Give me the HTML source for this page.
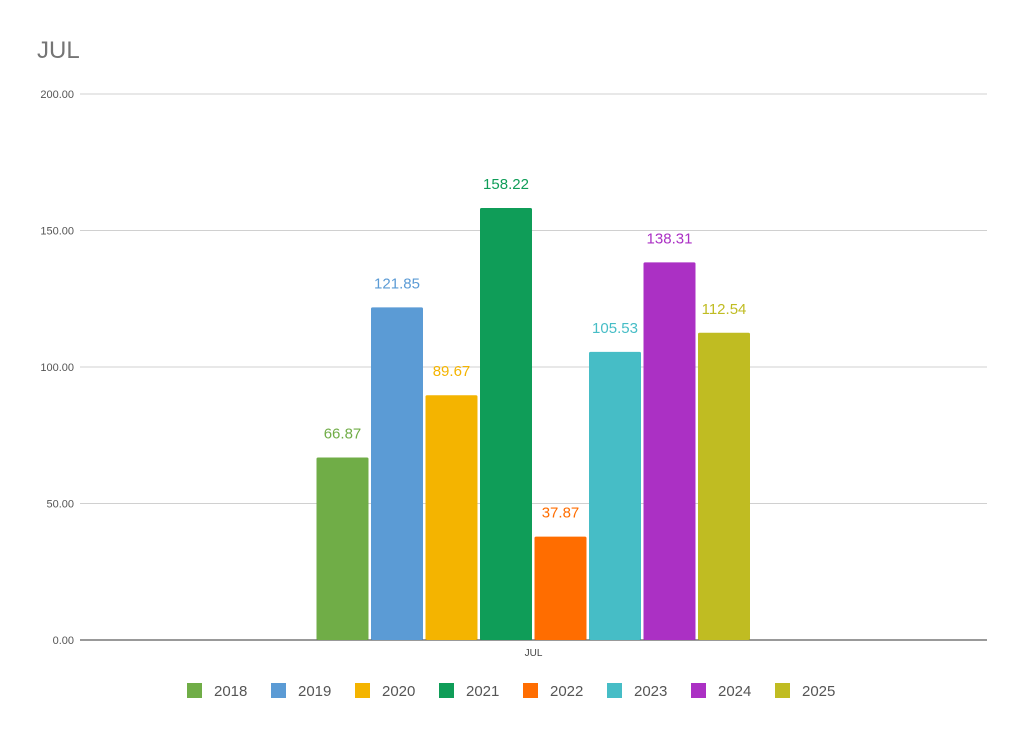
<!DOCTYPE html>
<html><head><meta charset="utf-8"><style>
body{margin:0;background:#fff;font-family:"Liberation Sans",sans-serif;}
svg{display:block}
</style></head><body>
<svg id="chart" width="1024" height="736">
<text x="37" y="58" font-size="24" fill="#757575">JUL</text>
<g id="grid"></g><g id="bars"></g><g id="legend"></g>
</svg>
<script>
const categories=["JUL"];
const series=["2018","2019","2020","2021","2022","2023","2024","2025"];
const values=[66.87,121.85,89.67,158.22,37.87,105.53,138.31,112.54];
const labels=["66.87","121.85","89.67","158.22","37.87","105.53","138.31","112.54"];
const ticks=[0,50,100,150,200];
const tickLabels=["0.00","50.00","100.00","150.00","200.00"];
const colors=["#70ad47","#5b9bd5","#f4b400","#0f9d58","#ff6d00","#46bdc6","#ab30c4","#c0bc22"];
const NS="http://www.w3.org/2000/svg";
const X0=80,X1=987,Y0=640,Y1=94,YMAX=200;
const y=v=>Y0-(v/YMAX)*(Y0-Y1);
function mk(t,a,p){const e=document.createElementNS(NS,t);for(const k in a)e.setAttribute(k,a[k]);p.appendChild(e);return e;}
const grid=document.getElementById('grid');
ticks.forEach((t,i)=>{
 const l=mk('line',{x1:X0,x2:X1,y1:y(t),y2:y(t),stroke:i==0?'#333':'#d0d0d0','stroke-width':1},grid);
 
 
 const tx=mk('text',{x:74,y:y(t)+4,'font-size':11,fill:'#555','text-anchor':'end'},grid);
 tx.textContent=tickLabels[i];
 
 
});
const bars=document.getElementById('bars');
const cx=(X0+X1)/2, step=54.5, bw=52;
const start=cx-step*series.length/2;
const xl=mk('text',{x:cx,y:656,'font-size':10,fill:'#444','text-anchor':'middle'},bars);
xl.textContent=categories[0];


values.forEach((v,i)=>{
 const bx=start+i*step+1;
 const r=mk('rect',{x:bx,y:y(v),width:bw,height:Y0-y(v),fill:colors[i],rx:1.5},bars);
 
 
 const t=mk('text',{x:bx+bw/2,y:y(v)-19,'font-size':15,fill:colors[i],'text-anchor':'middle'},bars);
 t.textContent=labels[i];
 
 
});
const lg=document.getElementById('legend');
series.forEach((s,i)=>{
 const lx=187+i*84;
 const g=mk('g',{},lg);
 
 
 mk('rect',{x:lx,y:683,width:15,height:15,fill:colors[i]},g);
 const t=mk('text',{x:lx+27,y:696,'font-size':15,fill:'#555'},g);
 t.textContent=s;
});
</script>
</body></html>
